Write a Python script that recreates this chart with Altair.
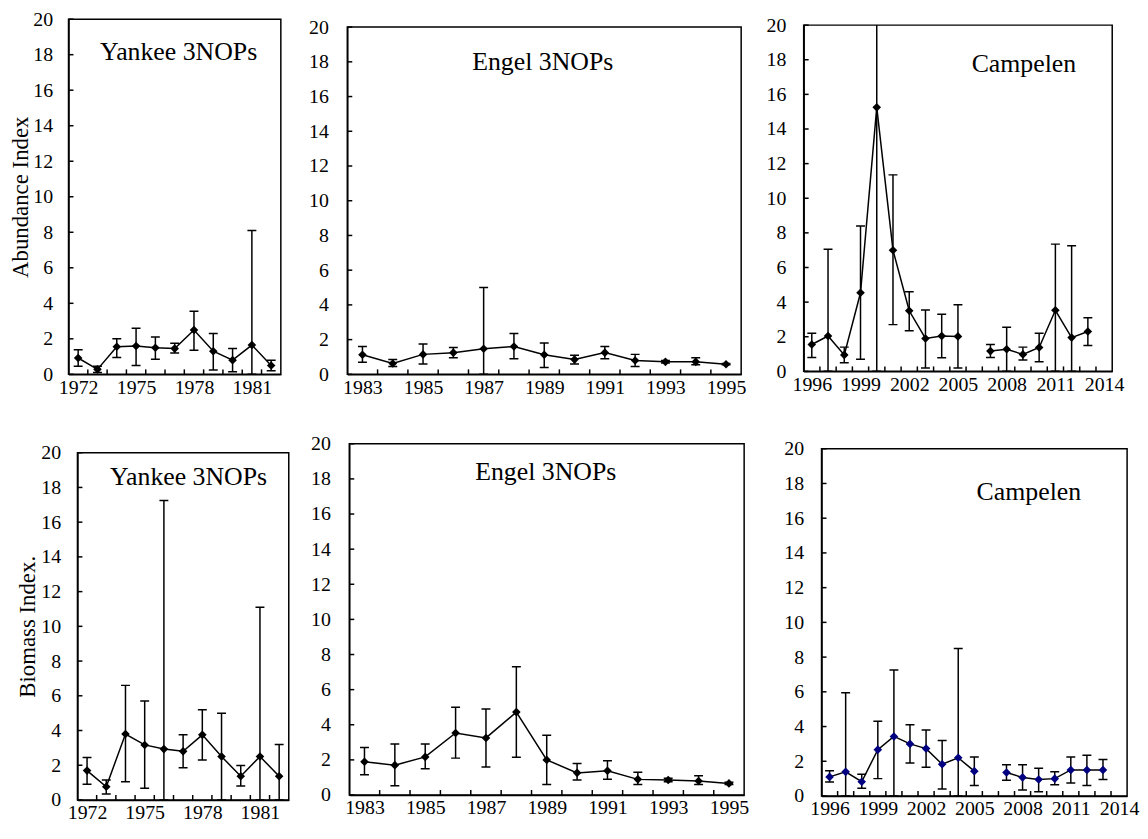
import altair as alt
import pandas as pd

FONT = "'Liberation Serif', 'Times New Roman', Times, serif"

# ---------------- data ----------------
y_ticks = [0, 2, 4, 6, 8, 10, 12, 14, 16, 18, 20]

# Yankee 3NOPs
yk_years = [1972, 1973, 1974, 1975, 1976, 1977, 1978, 1979, 1980, 1981, 1982]
yk_span = [1972, 1982]
yk_labels = [1972, 1975, 1978, 1981]
yk_abun = [0.92, 0.28, 1.55, 1.60, 1.50, 1.45, 2.50, 1.30, 0.80, 1.65, 0.50]
yk_abun_lo = [0.45, 0.10, 0.95, 0.50, 0.85, 1.20, 1.35, 0.25, 0.15, 0.00, 0.20]
yk_abun_hi = [1.38, 0.45, 2.00, 2.60, 2.10, 1.75, 3.55, 2.30, 1.45, 8.10, 0.80]
yk_bio = [1.69, 0.76, 3.80, 3.17, 2.93, 2.80, 3.75, 2.50, 1.37, 2.50, 1.37]
yk_bio_lo = [0.90, 0.35, 1.05, 0.67, 0.00, 1.85, 2.30, 0.00, 0.80, 0.00, 0.00]
yk_bio_hi = [2.45, 1.15, 6.60, 5.70, 17.25, 3.75, 5.20, 5.00, 1.98, 11.10, 3.20]

# Engel 3NOPs
en_years = [1983, 1984, 1985, 1986, 1987, 1988, 1989, 1990, 1991, 1992, 1993, 1994, 1995]
en_span = [1983, 1995]
en_labels = [1983, 1985, 1987, 1989, 1991, 1993, 1995]
en_abun = [1.13, 0.62, 1.15, 1.25, 1.47, 1.60, 1.13, 0.85, 1.25, 0.80, 0.72, 0.72, 0.58]
en_abun_lo = [0.70, 0.45, 0.60, 0.95, 0.00, 0.90, 0.40, 0.60, 0.90, 0.45, 0.65, 0.55, 0.55]
en_abun_hi = [1.60, 0.85, 1.75, 1.55, 5.00, 2.35, 1.80, 1.10, 1.60, 1.15, 0.80, 0.95, 0.62]
en_bio = [1.89, 1.70, 2.17, 3.53, 3.25, 4.72, 2.00, 1.26, 1.38, 0.89, 0.85, 0.80, 0.66]
en_bio_lo = [1.15, 0.52, 1.50, 2.10, 1.60, 2.15, 0.60, 0.85, 0.90, 0.60, 0.75, 0.60, 0.60]
en_bio_hi = [2.70, 2.90, 2.90, 5.00, 4.90, 7.30, 3.40, 1.80, 1.95, 1.30, 0.95, 1.10, 0.72]

# Campelen
cp_years = [1996, 1997, 1998, 1999, 2000, 2001, 2002, 2003, 2004, 2005,
            2007, 2008, 2009, 2010, 2011, 2012, 2013]
cp_span = [1996, 2014]
cp_labels = [1996, 1999, 2002, 2005, 2008, 2011, 2014]
cp_abun = [1.55, 2.04, 0.95, 4.54, 15.25, 7.00, 3.50, 1.90, 2.04, 2.02,
           1.17, 1.28, 0.98, 1.38, 3.53, 1.95, 2.30]
cp_abun_lo = [0.80, 0.00, 0.50, 0.70, 0.00, 2.70, 2.35, 0.20, 0.78, 0.20,
              0.80, 0.00, 0.65, 0.55, 0.00, 0.00, 1.50]
cp_abun_hi = [2.20, 7.05, 1.40, 8.40, 21.00, 11.35, 4.60, 3.55, 3.30, 3.85,
              1.55, 2.55, 1.40, 2.20, 7.35, 7.25, 3.10]
cp_bio = [1.10, 1.39, 0.82, 2.67, 3.43, 3.00, 2.73, 1.83, 2.20, 1.43,
          1.35, 1.07, 0.95, 1.00, 1.50, 1.50, 1.50]
cp_bio_lo = [0.80, 0.00, 0.45, 1.00, 0.00, 1.90, 1.65, 0.40, 0.00, 0.60,
             0.90, 0.35, 0.25, 0.65, 0.75, 0.60, 0.95]
cp_bio_hi = [1.45, 5.95, 1.25, 4.30, 7.25, 4.10, 3.80, 3.20, 8.50, 2.25,
             1.80, 1.80, 1.60, 1.40, 2.25, 2.35, 2.10]


def spacer(w, h):
    return alt.Chart(pd.DataFrame({"a": []})).mark_point().encode(
        x=alt.value(0), y=alt.value(0)).properties(
        width=w, height=h, view=alt.ViewBackground(strokeOpacity=0))


def panel(years, vals, lo, hi, span, label_years, name, w, h, label_pad,
          text_x, text_y, push=0, ytitle=None, title_pad=0, color="black"):
    df = pd.DataFrame({"year": years, "value": vals, "lo": lo, "hi": hi})
    df["seg"] = (df["year"].diff().fillna(1) > 1).cumsum()
    bounds = pd.DataFrame({"b": [y + 0.5 for y in range(span[0], span[1])]})
    yt = pd.DataFrame({"t": y_ticks})

    xs = alt.Scale(domain=[span[0] - 0.5, span[1] + 0.5], nice=False, zero=False)
    ys = alt.Scale(domain=[0, 20], nice=False, zero=True)
    xaxis = alt.Axis(values=label_years, format="d", ticks=False, tickSize=0,
                     labelPadding=3, labelFontSize=20, labelFont=FONT,
                     labelColor="black", domainColor="black", domainWidth=1.5,
                     grid=False, labelFlush=False, labelOverlap=False)
    yargs = dict(values=y_ticks, ticks=False, tickSize=0, labelPadding=label_pad,
                 labelFontSize=20, labelFont=FONT, labelColor="black",
                 domainColor="black", domainWidth=1.5, grid=False,
                 labelFlush=False, labelOverlap=False)
    if ytitle:
        yargs.update(titleFont=FONT, titleFontSize=23, titleFontWeight="normal",
                     titleColor="black", titlePadding=title_pad)
    yaxis = alt.Axis(**yargs)

    def X(f):
        return alt.X(f, scale=xs, axis=xaxis, title=None)

    def Y(f):
        return alt.Y(f, scale=ys, axis=yaxis, title=ytitle)

    base = alt.Chart(df)
    bars = base.mark_rule(color="black", strokeWidth=1.5, clip=True).encode(
        x=X("year:Q"), y=Y("lo:Q"), y2="hi:Q")
    cap_lo = base.mark_tick(orient="horizontal", size=9, thickness=1.5,
                            color="black", clip=True, opacity=1).encode(
        x=X("year:Q"), y=Y("lo:Q"))
    cap_hi = base.mark_tick(orient="horizontal", size=9, thickness=1.5,
                            color="black", clip=True, opacity=1).encode(
        x=X("year:Q"), y=Y("hi:Q"))
    line = base.mark_line(color="black", strokeWidth=1.5).encode(
        x=X("year:Q"), y=Y("value:Q"), detail="seg:N")
    pts = base.mark_point(shape="diamond", filled=True, size=75, color=color,
                          opacity=1).encode(x=X("year:Q"), y=Y("value:Q"))
    xt = alt.Chart(bounds).mark_rule(color="black", strokeWidth=1.5).encode(
        x=X("b:Q"), y=alt.value(h), y2=alt.value(h - 5))
    ytk = alt.Chart(yt).mark_rule(color="black", strokeWidth=1.5).encode(
        y=Y("t:Q"), x=alt.value(0), x2=alt.value(5))
    txt = alt.Chart(pd.DataFrame({"t": [name]})).mark_text(
        font=FONT, fontSize=26, align="center", baseline="middle",
        color="black").encode(x=alt.value(text_x), y=alt.value(text_y), text="t:N")

    body = alt.layer(bars, cap_lo, cap_hi, line, pts, xt, ytk, txt).properties(
        width=w, height=h)
    return alt.vconcat(spacer(10, 1), body, spacing=push)


p1 = panel(yk_years, yk_abun, yk_abun_lo, yk_abun_hi, yk_span, yk_labels,
           "Yankee 3NOPs", 214, 358, 16, 111, 33, 0, "Abundance Index", 0)
p2 = panel(en_years, en_abun, en_abun_lo, en_abun_hi, en_span, en_labels,
           "Engel 3NOPs", 397, 350, 19, 197, 35, 8)
p3 = panel(cp_years, cp_abun, cp_abun_lo, cp_abun_hi, cp_span, cp_labels,
           "Campelen", 311, 349, 18, 222, 39, 6)
p4 = panel(yk_years, yk_bio, yk_bio_lo, yk_bio_hi, yk_span, yk_labels,
           "Yankee 3NOPs", 213, 350, 17, 112, 25, 9, "Biomass Index.", 1)
p5 = panel(en_years, en_bio, en_bio_lo, en_bio_hi, en_span, en_labels,
           "Engel 3NOPs", 398, 354, 19, 198, 29, 0)
p6 = panel(cp_years, cp_bio, cp_bio_lo, cp_bio_hi, cp_span, cp_labels,
           "Campelen", 308, 350, 18, 209, 44, 5, color="#000080")

row1 = alt.hconcat(
    alt.hconcat(alt.hconcat(spacer(1, 1), p1, spacing=0), p2, spacing=26),
    p3, spacing=18)
row2 = alt.hconcat(
    alt.hconcat(alt.hconcat(spacer(1, 1), p4, spacing=7), p5, spacing=20),
    p6, spacing=33)

chart = alt.vconcat(row1, row2, spacing=34).properties(
    padding={"left": 0, "top": -4, "right": 0, "bottom": 0},
    background="white",
).configure_view(stroke="black", strokeWidth=1.5)

chart.save("out.html", embed_options={"renderer": "svg", "actions": False})
